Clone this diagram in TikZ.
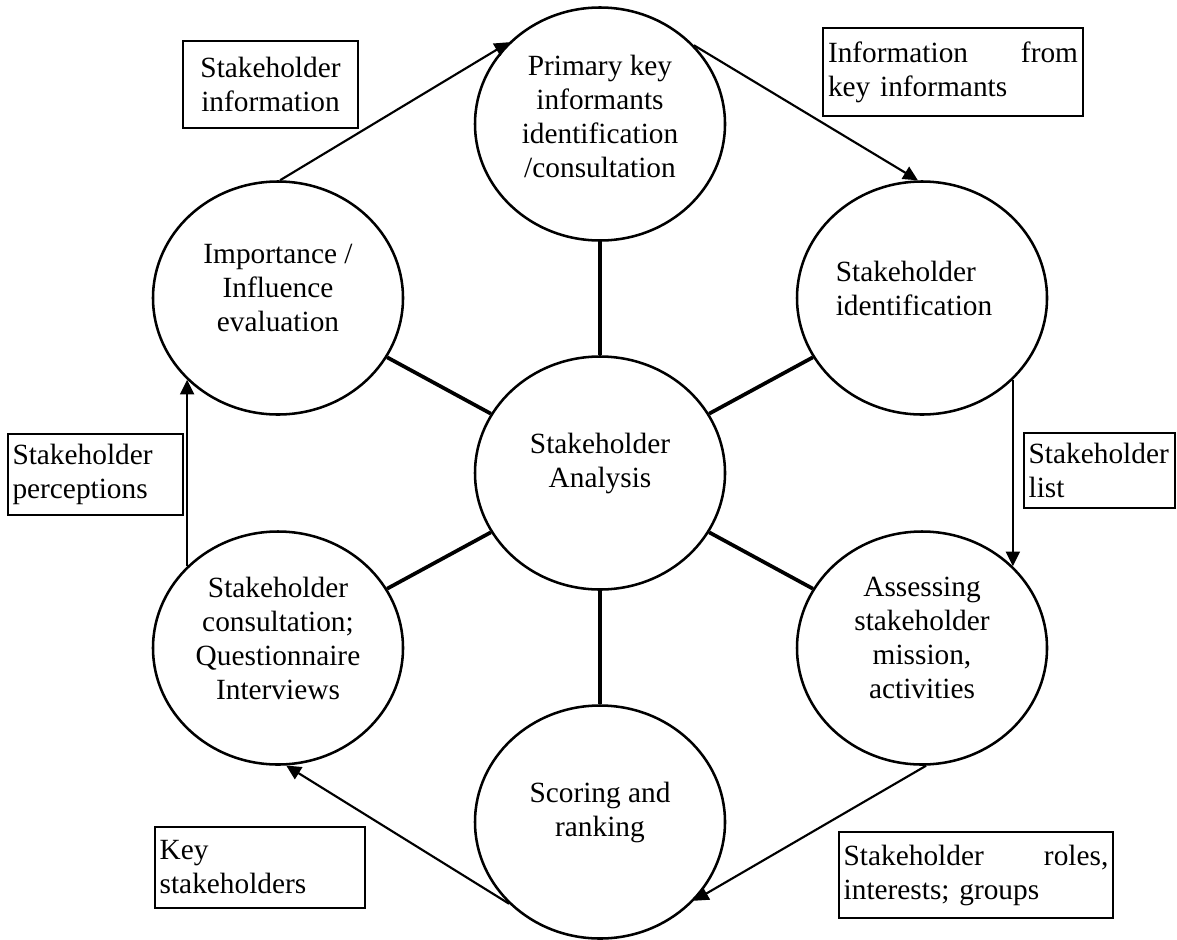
\documentclass[tikz,border=0pt]{standalone}
\usepackage{fontspec}
\setmainfont{Liberation Serif}
\usetikzlibrary{shapes.geometric,arrows.meta}
\tikzset{
  bubble/.style={ellipse, draw, line width=1.9pt, minimum width=187.5pt, minimum height=174.75pt, inner sep=0pt},
  btext/.style={align=center, font=\fontsize{22}{25.5}\selectfont, inner sep=0pt},
  spoke/.style={line width=2.8pt},
  arr/.style={line width=1.6pt, -{Triangle[length=11pt,width=10.5pt]}},
  lbox/.style={draw, line width=1.5pt, inner sep=3.5pt, align=left, font=\fontsize{22}{25.5}\selectfont, anchor=center}
}
\begin{document}
\begin{tikzpicture}[x=0.75pt, y=-0.75pt]
\useasboundingbox (0,0) rectangle (1177,939);
% ellipses
\node[bubble] (c)   at (600,473) {};
\node[bubble] (top) at (600,124) {};
\node[bubble] (imp) at (278,298) {};
\node[bubble] (sid) at (922,298) {};
\node[bubble] (con) at (278,648) {};
\node[bubble] (ass) at (922,648) {};
\node[bubble] (sco) at (600,822) {};
% texts
\node[btext] (tc)   at ([yshift=7.5pt]c.center)   {Stakeholder\\Analysis};
\node[btext] (ttop) at ([yshift=6pt]top.center) {Primary key\\informants\\identification\\/consultation};
\node[btext] (timp) at ([yshift=7.5pt]imp.center) {Importance /\\Influence\\evaluation};
\node[btext, align=left] (tsid) at ([xshift=-6pt,yshift=7.5pt]sid.center) {Stakeholder\\identification};
\node[btext] (tcon) at ([yshift=7.5pt]con.center) {Stakeholder\\consultation;\\Questionnaire\\Interviews};
\node[btext] (tass) at ([yshift=7.5pt]ass.center) {Assessing\\stakeholder\\mission,\\activities};
\node[btext] (tsco) at ([yshift=7.5pt]sco.center) {Scoring and\\ranking};
% spokes
\foreach \n in {top,imp,sid,con,ass,sco} \draw[spoke] (c) -- (\n);
% arrows
\draw[arr] (imp.89) -- (top.138);
\draw[arr] (top.40) -- (sid.92);
\draw[arr] (sid.-42) -- (ass.42);
\draw[arr] (ass.-88) -- (sco.-40);
\draw[arr] (sco.-138) -- (con.-86);
\draw[arr] (con.138) -- (imp.-138);
% label boxes
\node[lbox, align=center, minimum width=131.25pt, minimum height=65.25pt] (b1) at (270.5,84.5) {Stakeholder\\information};
\node[lbox, text width=187.5pt, minimum height=66pt] (b2) at (953,72) {Information\hfill from\\key informants};
\node[lbox, text width=124.5pt, minimum height=60.75pt] (b3) at (95.5,474.5) {Stakeholder\\perceptions};
\node[lbox, text width=106.25pt, minimum height=56.25pt] (b4) at (1099.5,470.5) {Stakeholder\\list};
\node[lbox, text width=150.5pt, minimum height=60.75pt] (b5) at (260,867.5) {Key\\stakeholders};
\node[lbox, text width=198.5pt, minimum height=64.5pt] (b6) at (976,875) {Stakeholder\hfill roles,\\interests; groups};
\end{tikzpicture}
\end{document}
